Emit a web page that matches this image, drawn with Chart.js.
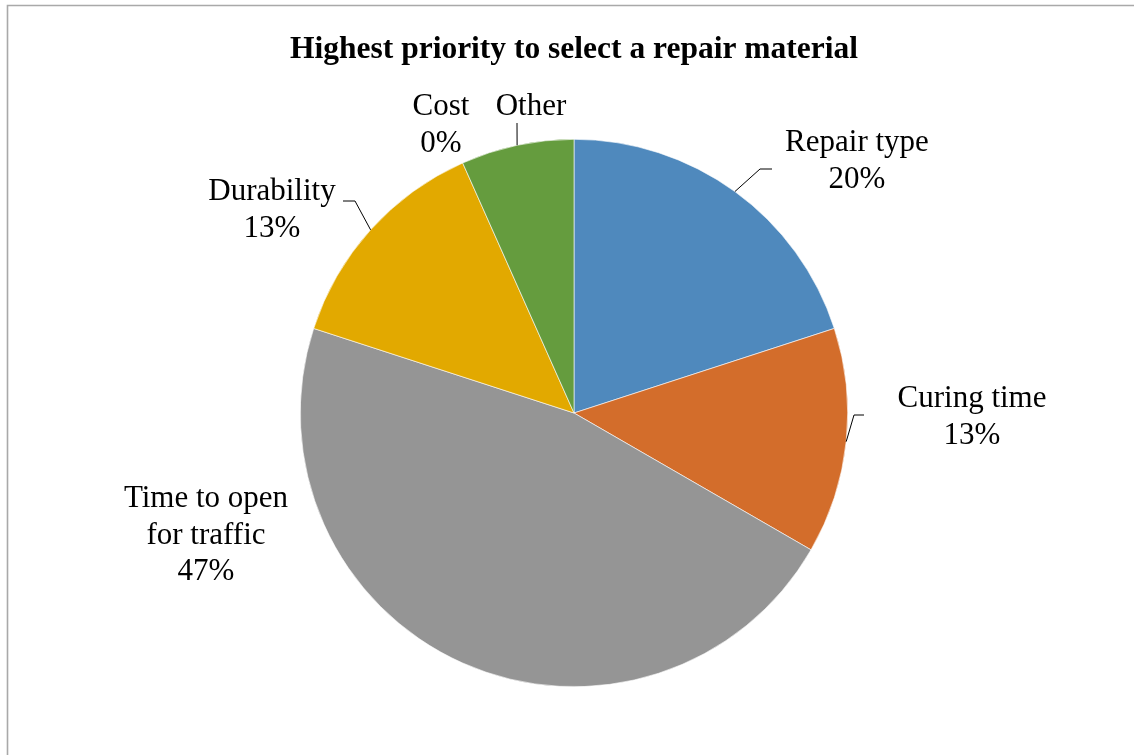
<!DOCTYPE html>
<html>
<head>
<meta charset="utf-8">
<script src="https://cdn.jsdelivr.net/npm/chart.js@4"></script>
<style>
  html, body { margin: 0; padding: 0; background: #fff; }
  #wrap { width: 1134px; height: 755px; position: relative; }
</style>
</head>
<body>
<div id="wrap"><canvas id="priorityChart" width="1134" height="755"></canvas></div>
<script>
// Survey answers (15 respondents)
const categories = ['Repair type', 'Curing time', 'Time to open for traffic', 'Durability', 'Cost', 'Other'];
const responses = [3, 2, 7, 2, 0, 1];
const sliceColors = ['#4f89bd', '#d36d2b', '#959595', '#e2a900', '#4672c4', '#659c3e'];

// label text lines, where each label sits and its leader line elbow
const labelLines = [
    ['Repair type'],
    ['Curing time'],
    ['Time to open', 'for traffic'],
    ['Durability'],
    ['Cost'],
    ['Other']
];
const labelBoxes = [
    { x: 857, y: 143, elbow: [760, 169], end: [772, 169] },
    { x: 972, y: 399, elbow: [854, 415], end: [864, 415] },
    { x: 206, y: 499, elbow: null },
    { x: 272, y: 192, elbow: [355, 201], end: [343, 201] },
    { x: 441, y: 107, elbow: null },
    { x: 531, y: 107, elbow: [517, 123], end: [517, 123], noPct: true }
];

const SERIF = '"Liberation Serif", "Times New Roman", serif';

const total = responses.reduce((a, b) => a + b, 0);

// frame, title and data labels
const decorations = {
    id: 'decorations',
    beforeDraw(chart) {
        const c = chart.ctx;
        c.save();
        c.fillStyle = '#fff';
        c.fillRect(0, 0, chart.width, chart.height);
        c.strokeStyle = '#a9a9a9';
        c.lineWidth = 1.6;
        c.beginPath();
        c.moveTo(7.5, chart.height + 2);
        c.lineTo(7.5, 5.5);
        c.lineTo(chart.width + 2, 5.5);
        c.stroke();
        c.restore();
    },
    afterDraw(chart) {
        const c = chart.ctx;
        const arcs = chart.getDatasetMeta(0).data;
        c.save();
        c.fillStyle = '#000';
        c.textAlign = 'center';
        c.textBaseline = 'middle';
        c.font = 'bold 31.5px ' + SERIF;
        c.fillText('Highest priority to select a repair material', 574, 50);

        c.font = '31px ' + SERIF;
        labelBoxes.forEach((box, i) => {
            const lines = labelLines[i].slice();
            if (!box.noPct) lines.push(Math.round(responses[i] / total * 100) + '%');
            lines.forEach((t, k) => c.fillText(t, box.x, box.y + k * 36.5));

            if (box.elbow) {
                const arc = arcs[i];
                const mid = (arc.startAngle + arc.endAngle) / 2;
                const px = arc.x + Math.cos(mid) * arc.outerRadius;
                const py = arc.y + Math.sin(mid) * arc.outerRadius;
                c.strokeStyle = '#000';
                c.lineWidth = 1;
                c.beginPath();
                c.moveTo(px, py);
                c.lineTo(box.elbow[0], box.elbow[1]);
                c.lineTo(box.end[0], box.end[1]);
                c.stroke();
            }
        });
        c.restore();
    }
};

new Chart(document.getElementById('priorityChart'), {
    type: 'pie',
    data: {
        labels: categories,
        datasets: [{
            data: responses,
            backgroundColor: sliceColors,
            borderColor: '#ffffff',
            borderWidth: 0.6
        }]
    },
    options: {
        responsive: false,
        animation: false,
        rotation: 0,
        layout: {
            padding: { top: 139, bottom: 68, left: 300, right: 286 }
        },
        plugins: {
            legend: { display: false },
            tooltip: { enabled: false },
            title: { display: false }
        }
    },
    plugins: [decorations]
});
</script>
</body>
</html>
